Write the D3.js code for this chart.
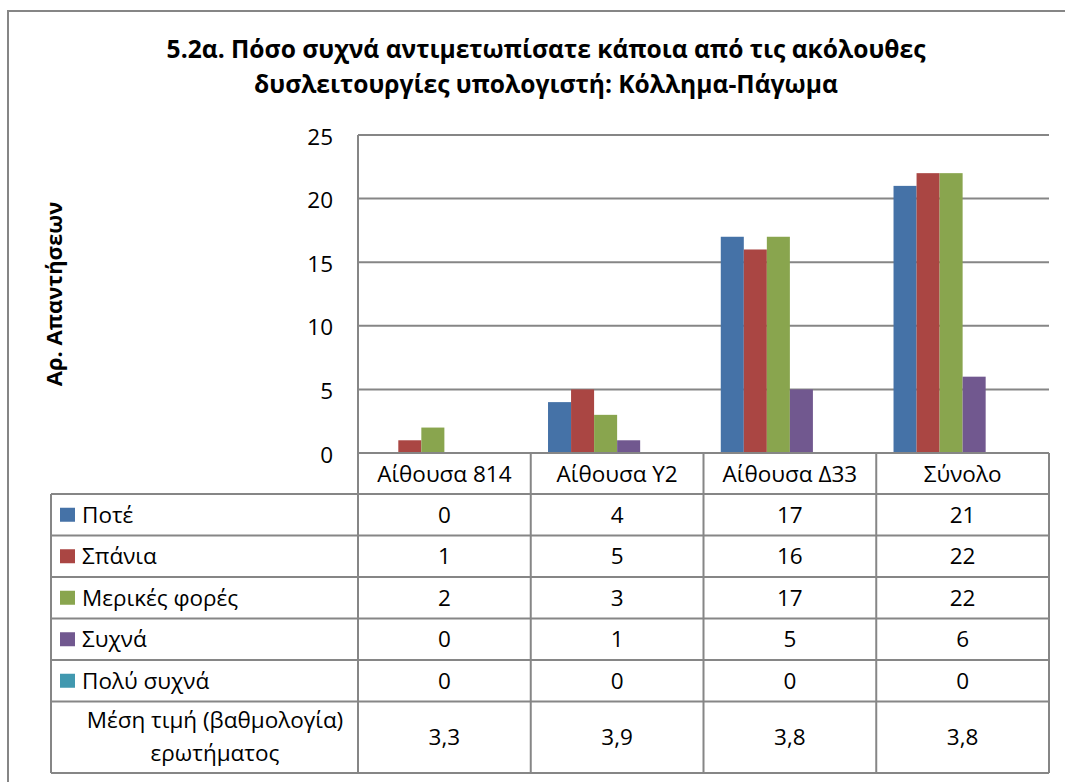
<!DOCTYPE html>
<html>
<head>
  <meta charset="utf-8">
  <script src="https://d3js.org/d3.v7.min.js"></script>
  <style>
  body { margin: 0; background: #fff; }
  text { font-family: "Open Sans", sans-serif; fill: #000; }
  .grid line { stroke: #868686; stroke-width: 2px; }
  .tbl line { stroke: #868686; stroke-width: 2px; }
  </style>
</head>
<body>
<script>
// data
var categories = ["Αίθουσα 814", "Αίθουσα Υ2", "Αίθουσα Δ33", "Σύνολο"];
var seriesNames = ["Ποτέ", "Σπάνια", "Μερικές φορές", "Συχνά", "Πολύ συχνά"];
var seriesColors = ["#4572A7", "#AA4643", "#89A54E", "#71588F", "#4198AF"];
var pote = [0, 4, 17, 21];
var spania = [1, 5, 16, 22];
var merikes = [2, 3, 17, 22];
var sychna = [0, 1, 5, 6];
var polySychna = [0, 0, 0, 0];
var meanLabel = ["Μέση τιμή (βαθμολογία)", "ερωτήματος"];
var meanValues = ["3,3", "3,9", "3,8", "3,8"];
var yTicks = [0, 5, 10, 15, 20, 25];
var titleLines = ["5.2α. Πόσο συχνά αντιμετωπίσατε κάποια από τις ακόλουθες",
                  "δυσλειτουργίες υπολογιστή: Κόλλημα-Πάγωμα"];
var yTitle = "Αρ. Απαντήσεων";

var seriesValues = [pote, spania, merikes, sychna, polySychna];

var W = 1065, H = 782;
var plotL = 358, plotR = 1049, plotT = 135, plotB = 453;
var tableL = 51, rowH = 41.5, meanH = 71.5;
var headB = 494;
var fs = "22.5px";

var svg = d3.select("body").append("svg")
  .attr("width", W).attr("height", H);

// outer chart frame (runs past the right and bottom edge)
svg.append("rect")
  .attr("x", 8).attr("y", 11)
  .attr("width", 1100).attr("height", 820)
  .attr("fill", "#fff").attr("stroke", "#868686").attr("stroke-width", 2);

// title
svg.append("g").selectAll("text")
  .data(titleLines)
  .enter().append("text")
    .attr("x", 546)
    .attr("y", function(d, i) { return 58 + i * 35; })
    .attr("text-anchor", "middle")
    .style("font-size", "24.6px")
    .style("font-weight", "bold")
    .text(function(d) { return d; });

// scales
var x = d3.scaleBand().domain(categories).range([plotL, plotR]);
// six slots per group: five answer series plus the (undrawn) mean series
var xInner = d3.scaleBand()
  .domain(seriesNames.concat(["Μέση τιμή"]))
  .range([0, x.bandwidth()])
  .paddingInner(0)
  .paddingOuter(0.75);
var y = d3.scaleLinear().domain([0, 25]).range([plotB, plotT]);

// gridlines
svg.append("g").attr("class", "grid")
  .selectAll("line")
  .data(yTicks)
  .enter().append("line")
    .attr("x1", plotL).attr("x2", plotR)
    .attr("y1", function(d) { return y(d); })
    .attr("y2", function(d) { return y(d); });

// y axis
var yAxis = d3.axisLeft(y).tickValues(yTicks).tickSize(0).tickPadding(25);
var yg = svg.append("g")
  .attr("transform", "translate(" + plotL + ",0)")
  .call(yAxis);
yg.select(".domain").remove();
yg.selectAll("text")
  .style("font-family", "'Open Sans', sans-serif")
  .style("font-size", fs)
  .attr("dy", "0.4em");

svg.append("text")
  .attr("transform", "translate(62," + 294 + ") rotate(-90)")
  .attr("text-anchor", "middle")
  .style("font-size", "22px")
  .style("font-weight", "bold")
  .text(yTitle);

// bars
var groups = svg.append("g").selectAll("g")
  .data(seriesValues)
  .enter().append("g")
    .attr("fill", function(d, i) { return seriesColors[i]; });

groups.selectAll("rect")
  .data(function(vals, si) {
    return vals.map(function(v, ci) { return {s: si, c: ci, v: v}; });
  })
  .enter().append("rect")
    .attr("x", function(d) { return x(categories[d.c]) + xInner(seriesNames[d.s]); })
    .attr("width", xInner.bandwidth())
    .attr("y", function(d) { return y(d.v); })
    .attr("height", function(d) { return y(0) - y(d.v); });

// data table
var rowTops = seriesNames.map(function(d, i) { return headB + i * rowH; });
var meanTop = headB + seriesNames.length * rowH;
var tableB = meanTop + meanH;

var tbl = svg.append("g").attr("class", "tbl");

// horizontal lines
var hLines = [{y: plotB, x1: plotL}].concat(
  rowTops.map(function(t) { return {y: t, x1: tableL}; }),
  [{y: meanTop, x1: tableL}, {y: tableB, x1: tableL}]);
tbl.selectAll("line.h")
  .data(hLines)
  .enter().append("line")
    .attr("class", "h")
    .attr("x1", function(d) { return d.x1; })
    .attr("x2", plotR)
    .attr("y1", function(d) { return d.y; })
    .attr("y2", function(d) { return d.y; });

// vertical lines
tbl.append("line")
  .attr("x1", tableL).attr("x2", tableL)
  .attr("y1", headB).attr("y2", tableB);
tbl.append("line")
  .attr("x1", plotL).attr("x2", plotL)
  .attr("y1", plotT).attr("y2", tableB);
tbl.selectAll("line.v")
  .data(categories)
  .enter().append("line")
    .attr("class", "v")
    .attr("x1", function(d) { return x(d) + x.bandwidth(); })
    .attr("x2", function(d) { return x(d) + x.bandwidth(); })
    .attr("y1", plotB).attr("y2", tableB);

// header (category names)
svg.append("g").selectAll("text")
  .data(categories)
  .enter().append("text")
    .attr("x", function(d) { return x(d) + x.bandwidth() / 2; })
    .attr("y", (plotB + headB) / 2)
    .attr("dy", "0.36em")
    .attr("text-anchor", "middle")
    .style("font-size", fs)
    .text(function(d) { return d; });

// legend keys + row names
var rows = svg.append("g").selectAll("g")
  .data(seriesNames)
  .enter().append("g")
    .attr("transform", function(d, i) { return "translate(0," + (rowTops[i] + rowH / 2) + ")"; });

rows.append("rect")
  .attr("x", 60).attr("y", -7)
  .attr("width", 15).attr("height", 14)
  .attr("fill", function(d, i) { return seriesColors[i]; });

rows.append("text")
  .attr("x", 82)
  .attr("dy", "0.36em")
  .style("font-size", fs)
  .text(function(d) { return d; });

rows.selectAll("text.val")
  .data(function(d, i) { return seriesValues[i]; })
  .enter().append("text")
    .attr("class", "val")
    .attr("x", function(d, i) { return x(categories[i]) + x.bandwidth() / 2; })
    .attr("dy", "0.36em")
    .attr("text-anchor", "middle")
    .style("font-size", fs)
    .text(function(d) { return d; });

// mean row
svg.append("g").selectAll("text")
  .data(meanLabel)
  .enter().append("text")
    .attr("x", 215)
    .attr("y", function(d, i) { return meanTop + meanH / 2 - 9 + i * 33; })
    .attr("text-anchor", "middle")
    .style("font-size", fs)
    .text(function(d) { return d; });

svg.append("g").selectAll("text")
  .data(meanValues)
  .enter().append("text")
    .attr("x", function(d, i) { return x(categories[i]) + x.bandwidth() / 2; })
    .attr("y", meanTop + meanH / 2)
    .attr("dy", "0.36em")
    .attr("text-anchor", "middle")
    .style("font-size", fs)
    .text(function(d) { return d; });
</script>
</body>
</html>
